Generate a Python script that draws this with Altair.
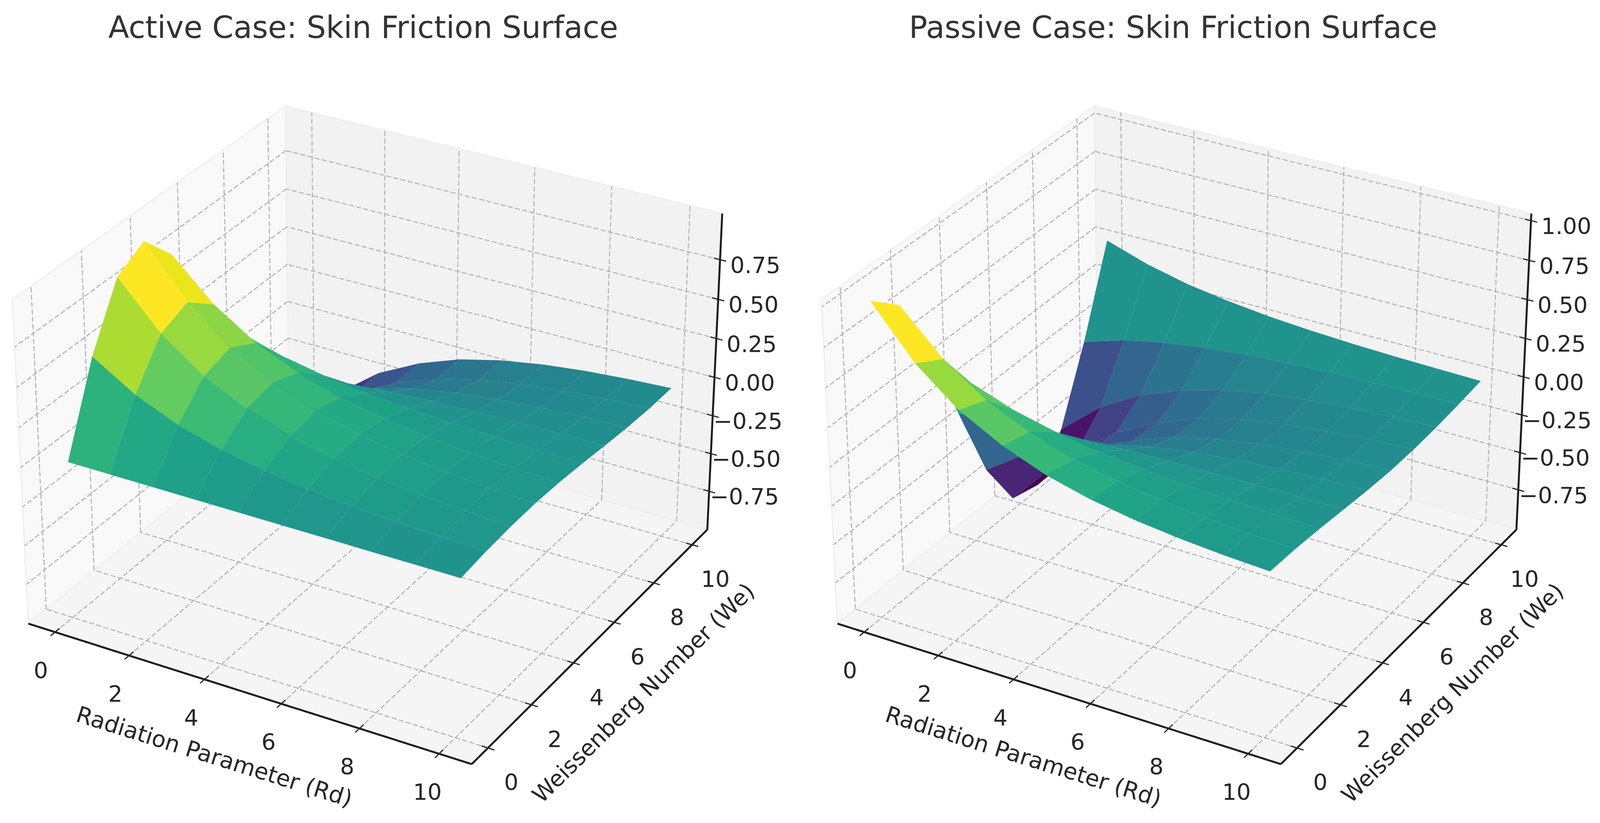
import altair as alt
import pandas as pd

W, H = 4107, 2090
MARGIN_X = 8
MARGIN_Y = 16
TEXT_DY = 4

RD = [0.03, 1.15, 2.26, 3.38, 4.49, 5.61, 6.72, 7.84, 8.95, 10.07]
WE = [0.03, 1.15, 2.26, 3.38, 4.49, 5.61, 6.72, 7.84, 8.95, 10.07]

# rows: We, columns: Rd
Z_ACTIVE = [
    [-0.004, -0.004, -0.004, -0.004, -0.004, -0.004, -0.004, -0.004, -0.004, -0.004],
    [0.527, 0.364, 0.250, 0.174, 0.119, 0.082, 0.056, 0.039, 0.027, 0.018],
    [0.896, 0.618, 0.426, 0.296, 0.202, 0.139, 0.096, 0.066, 0.046, 0.031],
    [0.995, 0.687, 0.473, 0.328, 0.224, 0.154, 0.106, 0.074, 0.051, 0.035],
    [0.796, 0.549, 0.378, 0.263, 0.179, 0.123, 0.085, 0.059, 0.041, 0.028],
    [0.355, 0.245, 0.169, 0.117, 0.080, 0.055, 0.038, 0.026, 0.018, 0.012],
    [-0.190, -0.131, -0.090, -0.063, -0.043, -0.029, -0.020, -0.014, -0.010, -0.007],
    [-0.679, -0.469, -0.323, -0.224, -0.153, -0.105, -0.073, -0.050, -0.035, -0.024],
    [-0.963, -0.664, -0.457, -0.318, -0.217, -0.149, -0.103, -0.071, -0.049, -0.034],
    [-0.959, -0.662, -0.456, -0.316, -0.216, -0.149, -0.103, -0.071, -0.049, -0.034],
]
Z_PASSIVE = [
    [1.000, 0.690, 0.475, 0.330, 0.225, 0.155, 0.107, 0.074, 0.051, 0.035],
    [0.850, 0.587, 0.404, 0.281, 0.191, 0.132, 0.091, 0.063, 0.043, 0.030],
    [0.445, 0.307, 0.211, 0.147, 0.100, 0.069, 0.048, 0.033, 0.023, 0.016],
    [-0.096, -0.066, -0.046, -0.032, -0.022, -0.015, -0.010, -0.007, -0.005, -0.003],
    [-0.604, -0.417, -0.287, -0.199, -0.136, -0.094, -0.065, -0.045, -0.031, -0.021],
    [-0.935, -0.645, -0.444, -0.309, -0.210, -0.145, -0.100, -0.069, -0.048, -0.033],
    [-0.982, -0.678, -0.466, -0.324, -0.221, -0.152, -0.105, -0.073, -0.050, -0.034],
    [-0.735, -0.507, -0.349, -0.243, -0.165, -0.114, -0.079, -0.054, -0.037, -0.026],
    [-0.270, -0.186, -0.128, -0.089, -0.061, -0.042, -0.029, -0.020, -0.014, -0.009],
    [0.285, 0.197, 0.135, 0.094, 0.064, 0.044, 0.030, 0.021, 0.015, 0.010],
]
X_TICKS = [0, 2, 4, 6, 8, 10]
Y_TICKS = [0, 2, 4, 6, 8, 10]
Z_TICKS_ACTIVE = [-0.75, -0.50, -0.25, 0.00, 0.25, 0.50, 0.75]
Z_TICKS_PASSIVE = [-0.75, -0.50, -0.25, 0.00, 0.25, 0.50, 0.75, 1.00]
TITLES = ["Active Case: Skin Friction Surface", "Passive Case: Skin Friction Surface"]
X_LABEL = "Radiation Parameter (Rd)"
Y_LABEL = "Weissenberg Number (We)"

# axis limits (pane to pane) and view geometry of the 3D box
XY_LO, XY_SPAN = -0.73, 11.54
PANELS = [
    dict(tx=964.0, zlo=-1.008, zspan=2.046, z=Z_ACTIVE, zt=Z_TICKS_ACTIVE, title=TITLES[0], tc=936, dx=0),
    dict(tx=3049.0, zlo=-1.020, zspan=2.065, z=Z_PASSIVE, zt=Z_TICKS_PASSIVE, title=TITLES[1], tc=3023, dx=2085),
]
TY, SX, SY = 1081.0, 10995.0, 10660.0
BX, BZ = 1.1905, 0.8929
DIST = 10.0
U = (0.8660, 0.5, 0.0)
V = (-0.25, 0.4330, 0.8660)
N = (0.4330, -0.75, 0.5)


def view(fx, fy, fz):
    d = ((fx - 0.5) * BX, (fy - 0.5) * BX, (fz - 0.5) * BZ)
    return (sum(a * b for a, b in zip(U, d)),
            sum(a * b for a, b in zip(V, d)),
            sum(a * b for a, b in zip(N, d)))


def proj(p, fx, fy, fz):
    xv, yv, zv = view(fx, fy, fz)
    s = DIST - zv
    return (p["tx"] + SX * xv / s - MARGIN_X, TY - SY * yv / s - MARGIN_Y)


def fxy(v):
    return (v - XY_LO) / XY_SPAN


def fzv(p, v):
    return (v - p["zlo"]) / p["zspan"]


def feature(ring, **props):
    pts = [list(q) for q in ring]
    pts.append(pts[0])
    return {"type": "Feature", "properties": props,
            "geometry": {"type": "Polygon", "coordinates": [pts]}}


pane_x, pane_y, pane_z = [], [], []
grid, spines, ticks, facets, tick_text, x_label_text, y_label_text, title_text = [], [], [], [], [], [], [], []


def seg(store, p, a, b):
    x, y = proj(p, *a)
    x2, y2 = proj(p, *b)
    store.append(dict(x=x, y=y, x2=x2, y2=y2))


for p in PANELS:
    # panes
    pane_x.append(feature([proj(p, 0, 0, 0), proj(p, 0, 1, 0), proj(p, 0, 1, 1), proj(p, 0, 0, 1)]))
    pane_y.append(feature([proj(p, 0, 1, 0), proj(p, 1, 1, 0), proj(p, 1, 1, 1), proj(p, 0, 1, 1)]))
    pane_z.append(feature([proj(p, 0, 0, 0), proj(p, 1, 0, 0), proj(p, 1, 1, 0), proj(p, 0, 1, 0)]))
    # grid and ticks
    for t in X_TICKS:
        f = fxy(t)
        seg(grid, p, (f, 0, 0), (f, 1, 0))
        seg(grid, p, (f, 1, 0), (f, 1, 1))
        seg(ticks, p, (f, -0.016, 0), (f, 0.016, 0))
        x, y = proj(p, f, 0, 0)
        tick_text.append(dict(x=x - 36.6 + 0.65 * t, y=y + 98 + TEXT_DY, t=str(t)))
    for t in Y_TICKS:
        f = fxy(t)
        seg(grid, p, (1, f, 0), (0, f, 0))
        seg(grid, p, (0, f, 0), (0, f, 1))
        seg(ticks, p, (0.986, f, 0), (1.014, f, 0))
        x, y = proj(p, 1, f, 0)
        tick_text.append(dict(x=x + 60, y=y + 88 + TEXT_DY, t=str(t)))
    for t in p["zt"]:
        f = fzv(p, t)
        seg(grid, p, (1, 1, f), (0, 1, f))
        seg(grid, p, (0, 1, f), (0, 0, f))
        seg(ticks, p, (0.9865, 1, f), (1.0135, 1, f))
        x, y = proj(p, 1, 1, f)
        tick_text.append(dict(x=x + 91, y=y + 13.5 + TEXT_DY, t=f"{t:.2f}".replace("-", "\u2212")))
    # axis lines
    seg(spines, p, (0, 0, 0), (1, 0, 0))
    seg(spines, p, (1, 0, 0), (1, 1, 0))
    seg(spines, p, (1, 1, 0), (1, 1, 1))
    # text
    x_label_text.append(dict(x=551.7 + p["dx"] - MARGIN_X, y=1947.8 - MARGIN_Y + TEXT_DY, t=X_LABEL))
    y_label_text.append(dict(x=1660 + p["dx"] - MARGIN_X, y=1784 - MARGIN_Y + TEXT_DY, t=Y_LABEL))
    title_text.append(dict(x=p["tc"] - MARGIN_X, y=71 - MARGIN_Y + TEXT_DY, t=p["title"]))
    # surface facets, far ones first
    z = p["z"]
    cells = []
    for j in range(9):
        for i in range(9):
            c = [(i, j), (i + 1, j), (i + 1, j + 1), (i, j + 1)]
            pts3 = [(fxy(RD[a]), fxy(WE[b]), fzv(p, z[b][a])) for a, b in c]
            depth = sum(view(*q)[2] for q in pts3) / 4
            mean = sum(z[b][a] for a, b in c) / 4
            cells.append((depth, mean, [proj(p, *q) for q in pts3]))
    lo = min(c[1] for c in cells)
    hi = max(c[1] for c in cells)
    for depth, mean, ring in sorted(cells, key=lambda c: c[0]):
        facets.append(feature(ring, v=(mean - lo) / (hi - lo)))

sx = alt.Scale(domain=[0, W], range=[0, W], nice=False, zero=False)
sy = alt.Scale(domain=[0, H], range=[0, H], nice=False, zero=False)
PROJECTION = dict(type="identity", scale=1, translate=[0, 0])


def rules(rows, **mark):
    return alt.Chart(pd.DataFrame(rows)).mark_rule(**mark).encode(
        x=alt.X("x:Q", scale=sx, axis=None),
        y=alt.Y("y:Q", scale=sy, axis=None),
        x2="x2:Q",
        y2="y2:Q",
    )


def texts(rows, size, color, angle=0):
    return alt.Chart(pd.DataFrame(rows)).mark_text(
        font="DejaVu Sans", fontSize=size, color=color, align="center", baseline="middle", angle=angle
    ).encode(
        x=alt.X("x:Q", scale=sx, axis=None),
        y=alt.Y("y:Q", scale=sy, axis=None),
        text="t:N",
    )


def pane(rows, color):
    return alt.Chart(alt.Data(values=rows)).mark_geoshape(
        fill=color, stroke="#eeeeee", strokeWidth=3, opacity=1
    ).project(**PROJECTION)


surface_layer = alt.Chart(alt.Data(values=facets)).mark_geoshape(opacity=1, fillOpacity=1, strokeWidth=0).encode(
    color=alt.Color("properties.v:Q", scale=alt.Scale(scheme="viridis", domain=[0, 1]), legend=None)
).project(**PROJECTION)

chart = alt.layer(
    pane(pane_x, "#f9f9f9"),
    pane(pane_y, "#f2f2f2"),
    pane(pane_z, "#f5f5f5"),
    rules(grid, color="#b0b0b0", strokeWidth=2.6, strokeDash=[13, 6]),
    rules(spines, color="#1c1c1c", strokeWidth=5),
    rules(ticks, color="#262626", strokeWidth=3),
    surface_layer,
    texts(tick_text, 58, "#262626"),
    texts(x_label_text, 58.5, "#262626", 17.4),
    texts(y_label_text, 58, "#262626", 315.4),
    texts(title_text, 78.5, "#333333"),
).properties(
    width=W,
    height=H,
    padding=0,
    autosize=alt.AutoSizeParams(type="none"),
    background="white",
).configure_view(stroke=None)

chart.save("out.html", embed_options={"renderer": "svg", "actions": False})
